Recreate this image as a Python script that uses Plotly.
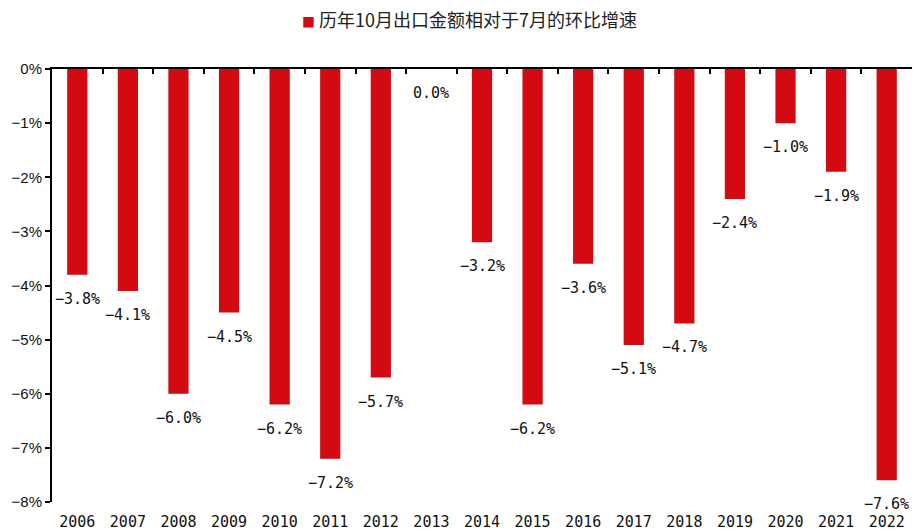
import plotly.graph_objects as go

years = ["2006", "2007", "2008", "2009", "2010", "2011", "2012", "2013", "2014",
         "2015", "2016", "2017", "2018", "2019", "2020", "2021", "2022"]
values = [-3.8, -4.1, -6.0, -4.5, -6.2, -7.2, -5.7, 0.0, -3.2,
          -6.2, -3.6, -5.1, -4.7, -2.4, -1.0, -1.9, -7.6]
series_name = "历年10月出口金额相对于7月的环比增速"
y_ticks = [0, -1, -2, -3, -4, -5, -6, -7, -8]

RED = "#D40A12"
LABEL_FONT = dict(family="DejaVu Sans Mono, monospace", size=15, color="#111111")

fig = go.Figure()
fig.add_trace(go.Bar(
    x=years, y=values, name=series_name,
    marker=dict(color=RED, line=dict(width=0)),
    width=0.4, showlegend=False, cliponaxis=False,
))
# helper trace for top axis (line at 0%)
fig.add_trace(go.Scatter(x=years, y=[None] * len(years), xaxis="x2",
                         showlegend=False, hoverinfo="skip"))

for i, v in enumerate(values):
    fig.add_annotation(x=i, y=v, xref="x", yref="y",
                       text=f"{v:.1f}%".replace("-", "\u2212"),
                       showarrow=False, yanchor="middle", yshift=-24,
                       font=LABEL_FONT)

# legend-style title
fig.add_annotation(xref="paper", yref="paper", x=0.485, y=1.0, yshift=50,
                   xanchor="center", yanchor="middle", showarrow=False,
                   text=f"<span style='color:{RED};font-size:13px'>■</span> {series_name}",
                   font=dict(family="Noto Sans CJK SC", size=18, color="#222222"))

fig.update_layout(
    width=913, height=530,
    margin=dict(l=52, r=1, t=69, b=28, autoexpand=False),
    plot_bgcolor="white", paper_bgcolor="white",
    font=dict(family="Liberation Sans, Arial, sans-serif", size=14, color="#111111"),
    xaxis=dict(type="category", range=[-0.5, 16.5], showline=False, ticks="",
               showgrid=False, tickfont=LABEL_FONT, ticklabelstandoff=9),
    xaxis2=dict(type="category", overlaying="x", matches="x", side="top",
                anchor="y", showline=True, linecolor="black", linewidth=2,
                ticks="inside", tickson="boundaries", ticklen=5, tickwidth=2,
                tickcolor="black", showticklabels=False, showgrid=False),
    yaxis=dict(range=[-8, 0], tickvals=y_ticks,
               ticktext=[f"{t}%".replace("-", "\u2212") for t in y_ticks],
               showline=True, linecolor="black", linewidth=2, ticks="outside",
               ticklen=5, tickwidth=2, tickcolor="black", showgrid=False,
               zeroline=False, tickfont=dict(size=15)),
    bargap=0.6,
)
fig.write_html("out.html", config={"displayModeBar": False},
               post_script="document.body.style.margin='0px';document.body.style.padding='0px';")
